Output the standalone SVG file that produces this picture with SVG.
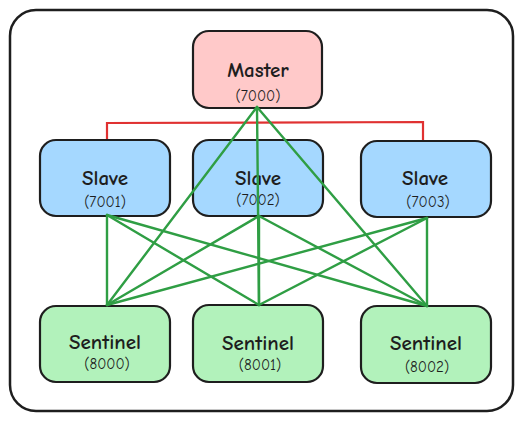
<svg xmlns="http://www.w3.org/2000/svg" width="528" height="421" viewBox="0 0 528 421">
<style>
.frame{fill:#ffffff;stroke:#1e1e1e;stroke-width:2.5}
.node{stroke:#1e1e1e;stroke-width:2.2}
.m{fill:#ffc9c9}
.s{fill:#a5d8ff}
.t{fill:#b2f2bb}
.title{font-family:"Comic Neue","Lato","Liberation Sans",sans-serif;font-size:21px;font-weight:bold;fill:#1e1e1e;text-anchor:middle}
.port{font-family:"Comic Neue","Lato","Liberation Sans",sans-serif;font-size:15px;fill:#1e1e1e;text-anchor:middle}
.g{stroke:#2f9e44;stroke-width:2.4;fill:none;stroke-linecap:round}
.r{stroke:#e03131;stroke-width:2.2;fill:none}
</style>
<rect class="frame" x="10" y="10" width="503" height="401" rx="26"/>
<g id="links-red">
<polyline class="r" points="107,140 107,123 423,122 423,140"/>
</g>
<g id="master">
<rect class="node m" x="193" y="31" width="129" height="77" rx="16"/>
<text class="title" x="258" y="77">Master</text>
<text class="port" x="258" y="101">(7000)</text>
</g>
<g id="slave1">
<rect class="node s" x="40" y="140" width="130" height="76" rx="16"/>
<text class="title" x="105" y="185">Slave</text>
<text class="port" x="105" y="207">(7001)</text>
</g>
<g id="slave2">
<rect class="node s" x="193" y="140" width="130" height="76" rx="16"/>
<text class="title" x="258" y="185">Slave</text>
<text class="port" x="258" y="205">(7002)</text>
</g>
<g id="slave3">
<rect class="node s" x="361" y="141" width="130" height="76" rx="16"/>
<text class="title" x="425" y="185">Slave</text>
<text class="port" x="428" y="207">(7003)</text>
</g>
<g id="sentinel1">
<rect class="node t" x="40" y="306" width="130" height="76" rx="16"/>
<text class="title" x="105" y="349">Sentinel</text>
<text class="port" x="107" y="369">(8000)</text>
</g>
<g id="sentinel2">
<rect class="node t" x="193" y="305" width="130" height="77" rx="16"/>
<text class="title" x="258" y="350">Sentinel</text>
<text class="port" x="260" y="370">(8001)</text>
</g>
<g id="sentinel3">
<rect class="node t" x="361" y="306" width="130" height="77" rx="16"/>
<text class="title" x="426" y="350">Sentinel</text>
<text class="port" x="427" y="372">(8002)</text>
</g>
<g id="connectors">
<line class="g" x1="257" y1="107" x2="107" y2="305"/>
<line class="g" x1="257" y1="107" x2="259" y2="305"/>
<line class="g" x1="257" y1="107" x2="427" y2="306"/>
<line class="g" x1="107" y1="215" x2="107" y2="305"/>
<line class="g" x1="107" y1="215" x2="259" y2="305"/>
<line class="g" x1="107" y1="215" x2="427" y2="306"/>
<line class="g" x1="259" y1="216" x2="107" y2="305"/>
<line class="g" x1="259" y1="216" x2="259" y2="305"/>
<line class="g" x1="259" y1="216" x2="427" y2="306"/>
<line class="g" x1="427" y1="218" x2="107" y2="305"/>
<line class="g" x1="427" y1="218" x2="259" y2="305"/>
<line class="g" x1="427" y1="218" x2="427" y2="306"/>
</g>
</svg>
